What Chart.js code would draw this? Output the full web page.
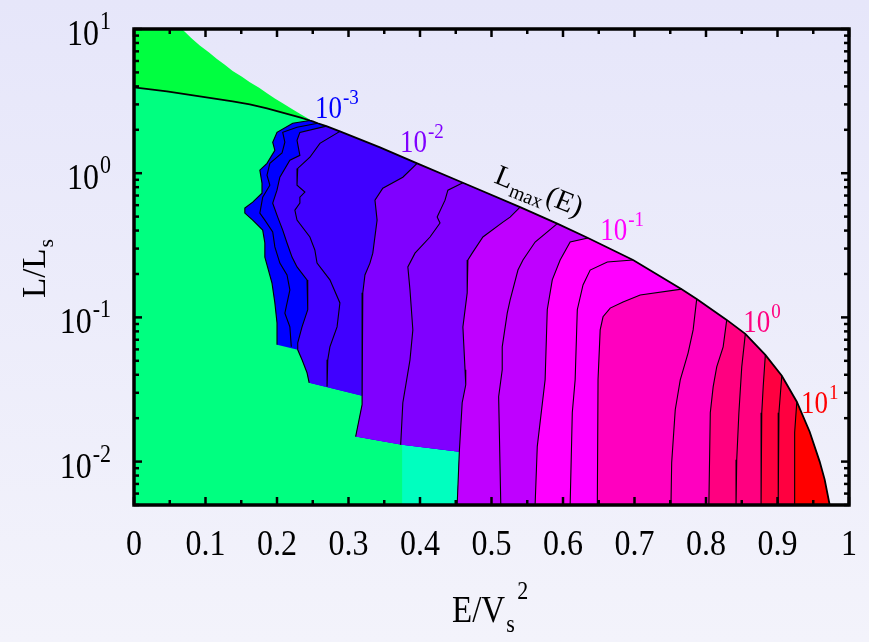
<!DOCTYPE html>
<html>
<head>
<meta charset="utf-8">
<title>L/Ls vs E/Vs^2 contours</title>
<script src="https://cdn.jsdelivr.net/npm/chart.js@4/dist/chart.umd.min.js"></script>
<style>
  html, body { margin: 0; padding: 0; }
  body { width: 869px; height: 642px; overflow: hidden;
         background: linear-gradient(180deg, #e6e6fa 0%, #f3f3fb 100%); }
  canvas { display: block; }
</style>
</head>
<body>
<canvas id="chart" width="869" height="642"></canvas>
<script>
// ---------------- data (E/Vs^2 , L/Ls) ----------------
const xTicks = [0, 0.1, 0.2, 0.3, 0.4, 0.5, 0.6, 0.7, 0.8, 0.9, 1];
const xTickLabels = ['0', '0.1', '0.2', '0.3', '0.4', '0.5', '0.6', '0.7', '0.8', '0.9', '1'];
const yTicks = [0.01, 0.1, 1, 10];
const yTickExponents = ['-2', '-1', '0', '1'];
const xRange = [0, 1];
const yRange = [0.005, 10];

// Lmax(E) boundary curve
const lMax = [[0,3.94],[0.046,3.69],[0.092,3.41],[0.138,3.15],[0.162,3.00],[0.186,2.82],[0.232,2.44],
  [0.246,2.32],[0.250,2.29],[0.257,2.22],[0.269,2.12],[0.288,1.95],[0.344,1.51],[0.396,1.17],[0.460,0.859],
  [0.540,0.582],[0.592,0.447],[0.635,0.355],[0.698,0.250],[0.766,0.157],[0.787,0.134],[0.829,0.0961],
  [0.855,0.0769],[0.883,0.0550],[0.906,0.0394],[0.927,0.0260],[0.945,0.0161],[0.959,0.0100],
  [0.966,0.0075],[0.973,0.005]];

// upper edge of the bright green region above Lmax
const upperEdge = [[0,10],[0.067,10],[0.080,8.67],[0.092,7.69],[0.105,6.87],[0.116,6.19],[0.127,5.64],
  [0.138,5.12],[0.151,4.66],[0.162,4.27],[0.175,3.91],[0.186,3.58],[0.197,3.30],[0.208,3.05],
  [0.221,2.79],[0.232,2.58],[0.250,2.29]];

// lower edge of the coloured (contoured) region
const lowerEdge = [[0.200,0.0645],[0.229,0.0596],[0.235,0.0508],[0.242,0.0413],[0.245,0.0352],
  [0.319,0.0286],[0.319,0.0248],[0.310,0.0149],[0.375,0.0131],[0.455,0.0117],[0.452,0.005],[0.973,0.005]];

const cyanPatch = [[0.375,0.0131],[0.455,0.0117],[0.452,0.005],[0.375,0.005]];

// contour lines, from Lmax (top) downwards
const line1 = [[0.246,2.32],[0.222,2.22],[0.200,1.92],[0.194,1.64],[0.197,1.44],[0.186,1.17],[0.176,1.05],
  [0.179,0.853],[0.179,0.727],[0.166,0.630],[0.155,0.573],[0.155,0.529],[0.166,0.473],[0.180,0.403],
  [0.183,0.328],[0.183,0.262],[0.193,0.173],[0.197,0.126],[0.200,0.0916],[0.200,0.0645]];
const line2 = [[0.257,2.22],[0.228,2.08],[0.208,1.92],[0.211,1.64],[0.207,1.38],[0.190,1.17],[0.186,0.968],
  [0.190,0.826],[0.180,0.682],[0.176,0.529],[0.183,0.473],[0.194,0.391],[0.197,0.308],[0.204,0.238],
  [0.214,0.197],[0.218,0.155],[0.211,0.107],[0.218,0.0859],[0.220,0.0625]];
const line3 = [[0.269,2.12],[0.232,1.92],[0.228,1.69],[0.232,1.33],[0.218,1.23],[0.204,0.938],[0.200,0.763],
  [0.194,0.620],[0.201,0.496],[0.208,0.403],[0.214,0.328],[0.221,0.262],[0.228,0.224],[0.242,0.182],
  [0.243,0.139],[0.243,0.113],[0.235,0.0859],[0.229,0.0666],[0.229,0.0596],[0.235,0.0508],[0.242,0.0413],
  [0.245,0.0352]];
const line4 = [[0.288,1.95],[0.260,1.61],[0.246,1.29],[0.229,1.08],[0.228,0.826],[0.239,0.739],[0.232,0.682],
  [0.232,0.620],[0.225,0.555],[0.228,0.473],[0.246,0.361],[0.253,0.293],[0.256,0.238],[0.274,0.182],
  [0.288,0.126],[0.284,0.0859],[0.274,0.0625],[0.271,0.0508],[0.270,0.0330]];
const line5 = [[0.396,1.17],[0.376,0.938],[0.348,0.787],[0.337,0.650],[0.340,0.473],[0.334,0.279],
  [0.330,0.238],[0.323,0.197],[0.320,0.148],[0.319,0.0781],[0.319,0.0286],[0.319,0.0248],[0.310,0.0149]];
const line6 = [[0.460,0.859],[0.439,0.763],[0.435,0.650],[0.424,0.496],[0.428,0.451],[0.414,0.361],
  [0.393,0.279],[0.383,0.224],[0.386,0.155],[0.390,0.0819],[0.386,0.0508],[0.376,0.0256],[0.373,0.0131]];
const line7 = [[0.540,0.582],[0.526,0.496],[0.516,0.458],[0.488,0.361],[0.473,0.279],[0.467,0.250],
  [0.466,0.148],[0.460,0.0859],[0.463,0.0433],[0.464,0.0341],[0.459,0.0256],[0.455,0.0117],[0.452,0.005]];
const line8 = [[0.592,0.447],[0.561,0.333],[0.544,0.250],[0.537,0.213],[0.526,0.132],[0.522,0.107],
  [0.515,0.0625],[0.515,0.0433],[0.510,0.0282],[0.513,0.005]];
const line9 = [[0.635,0.355],[0.610,0.333],[0.596,0.250],[0.585,0.182],[0.578,0.113],[0.575,0.0369],
  [0.564,0.0127],[0.561,0.005]];
const line10 = [[0.698,0.250],[0.662,0.242],[0.638,0.213],[0.628,0.168],[0.620,0.113],[0.617,0.0369],
  [0.613,0.0218],[0.610,0.005]];
const line11 = [[0.766,0.157],[0.708,0.143],[0.684,0.128],[0.666,0.116],[0.656,0.101],[0.652,0.0819],
  [0.649,0.0369],[0.648,0.005]];
const line12 = [[0.787,0.134],[0.782,0.0819],[0.775,0.0568],[0.764,0.0369],[0.757,0.0229],[0.752,0.00984],
  [0.751,0.005]];
const line13 = [[0.829,0.0961],[0.824,0.0625],[0.815,0.0454],[0.810,0.0330],[0.806,0.0218],[0.804,0.005]];
const line14 = [[0.855,0.0769],[0.850,0.0454],[0.846,0.0218],[0.843,0.0103],[0.842,0.005]];
const line15 = [[0.883,0.0550],[0.880,0.0330],[0.878,0.0218],[0.877,0.005]];
const line16 = [[0.906,0.0394],[0.902,0.0218],[0.901,0.0142],[0.901,0.005]];
const line17 = [[0.927,0.0260],[0.924,0.0159],[0.924,0.005]];

const contourLines = [line1, line2, line3, line4, line5, line6, line7, line8, line9,
  line10, line11, line12, line13, line14, line15, line16, line17];
// each coloured band lies to the right of one of these lines
const bandLines = [line1, line3, line5, line7, line9, line11, line13, line15, line17];

// level labels (10^exp) and Lmax label anchors
const levelExponents = ['-3', '-2', '-1', '0', '1'];
const levelLabelE = [0.253, 0.372, 0.652, 0.852, 0.933];
const levelLabelL = [2.40, 1.40, 0.344, 0.0794, 0.0218];
const lmaxLabelAnchor = [0.502, 0.867];

// ---------------- styles ----------------
const bandColors = ['#0000ff', '#4000ff', '#8000ff', '#bf00ff', '#ff00ff', '#ff00bf', '#ff0080', '#ff0040', '#ff0000'];
const levelColors = ['#0000ff', '#8000ff', '#ff00ff', '#ff0080', '#ff0000'];
const baseGreen = '#00ff80', brightGreen = '#00ff40', cyanGreen = '#00ffbf';
const FONT = '"Liberation Serif", "Times New Roman", serif';
const SY = 1.15;

// ---------------- build polygons from the arrays ----------------
const toXY = a => a.map(p => ({x: p[0], y: p[1]}));
function nearestIndex(arr, p) {
  let best = 0, bd = Infinity;
  arr.forEach((q, i) => {
    const dx = (q[0] - p[0]) * 715, dy = (Math.log10(q[1]) - Math.log10(p[1])) * 144;
    const d = dx * dx + dy * dy;
    if (d < bd) { bd = d; best = i; }
  });
  return best;
}
function bandPolygon(line) {
  const top = line[0], last = line[line.length - 1];
  let pts = line.slice();
  if (last[1] > yRange[0] * 1.001) {
    const k = nearestIndex(lowerEdge, last);
    pts = pts.concat(lowerEdge.slice(k + 1));
  }
  return pts.concat(lMax.filter(p => p[0] > top[0] + 1e-9).reverse());
}

const datasets = [];
let ord = 1000;
function addPoly(points, color) {
  datasets.push({data: toXY(points), fill: 'shape', backgroundColor: color,
    borderColor: 'rgba(0,0,0,0)', borderWidth: 0, pointRadius: 0, order: ord--});
}
addPoly(lMax.concat([[0, yRange[0]]]), baseGreen);
const ueEnd = upperEdge[upperEdge.length - 1][0];
addPoly(upperEdge.concat(lMax.filter(p => p[0] < ueEnd - 1e-9).reverse()), brightGreen);
addPoly(cyanPatch, cyanGreen);
bandLines.forEach((l, i) => addPoly(bandPolygon(l), bandColors[i]));
contourLines.forEach(l => datasets.push({data: toXY(l), fill: false, borderColor: '#000',
  borderWidth: 1.1, pointRadius: 0, order: 10}));
datasets.push({data: toXY(lMax), fill: false, borderColor: '#000', borderWidth: 1.8, pointRadius: 0, order: 5});

// ---------------- frame, ticks and text ----------------
function drawText(ctx, s, x, y, size, color) {
  ctx.save(); ctx.translate(x, y); ctx.scale(1, SY);
  ctx.font = size + 'px ' + FONT; ctx.fillStyle = color;
  ctx.textAlign = 'left'; ctx.textBaseline = 'alphabetic';
  ctx.fillText(s, 0, 0); ctx.restore();
}
function textW(ctx, s, size) {
  ctx.save(); ctx.font = size + 'px ' + FONT; const w = ctx.measureText(s).width; ctx.restore(); return w;
}
const framePlugin = {
  id: 'frameAndText',
  afterDraw(chart) {
    const {ctx, chartArea: a} = chart;
    const xs = chart.scales.x, ys = chart.scales.y;
    ctx.save();
    ctx.strokeStyle = '#000'; ctx.lineCap = 'butt';
    const seg = (x1, y1, x2, y2) => { ctx.beginPath(); ctx.moveTo(x1, y1); ctx.lineTo(x2, y2); ctx.stroke(); };
    ctx.lineWidth = 2.5;
    xTicks.forEach((v, i) => {
      const p = xs.getPixelForValue(v);
      seg(p, a.bottom, p, a.bottom - 8); seg(p, a.top, p, a.top + 8);
      if (i < xTicks.length - 1) {
        const m = xs.getPixelForValue((v + xTicks[i + 1]) / 2);
        seg(m, a.bottom, m, a.bottom - 5); seg(m, a.top, m, a.top + 5);
      }
    });
    yTicks.forEach(v => {
      const p = ys.getPixelForValue(v);
      seg(a.left, p, a.left + 8, p); seg(a.right, p, a.right - 8, p);
    });
    for (let e = -3; e <= 1; e++) {
      for (let k = 2; k <= 9; k++) {
        const v = k * Math.pow(10, e);
        if (v < yRange[0] - 1e-12 || v > yRange[1]) continue;
        const p = ys.getPixelForValue(v);
        seg(a.left, p, a.left + 5, p); seg(a.right, p, a.right - 5, p);
      }
    }
    ctx.lineWidth = 3.5;
    ctx.strokeRect(a.left, a.top, a.right - a.left, a.bottom - a.top);

    // x tick labels
    xTicks.forEach((v, i) => {
      const p = xs.getPixelForValue(v);
      const w = textW(ctx, xTickLabels[i], 32);
      drawText(ctx, xTickLabels[i], p - w / 2, 555, 32, '#000');
    });
    // y tick labels 10^n
    yTicks.forEach((v, i) => {
      const p = ys.getPixelForValue(v);
      const ws = textW(ctx, yTickExponents[i], 22), wb = textW(ctx, '10', 32);
      const right = 111;
      drawText(ctx, '10', right - ws - 1 - wb, p + 16, 32, '#000');
      drawText(ctx, yTickExponents[i], right - ws, p, 22, '#000');
    });
    // y axis title L/L_s
    ctx.save();
    ctx.translate(45, 298); ctx.rotate(-Math.PI / 2);
    ctx.fillStyle = '#000'; ctx.font = '33px ' + FONT; ctx.textBaseline = 'alphabetic';
    ctx.fillText('L/L', 0, 0);
    const wl = ctx.measureText('L/L').width;
    ctx.font = '22px ' + FONT; ctx.fillText('s', wl + 1, 8);
    ctx.restore();
    // x axis title E/V_s^2
    const wE = textW(ctx, 'E/V', 33);
    drawText(ctx, 'E/V', 452, 622, 33, '#000');
    drawText(ctx, 's', 452 + wE + 1, 632, 22, '#000');
    drawText(ctx, '2', 452 + wE + 12, 599, 22, '#000');

    // contour level labels
    levelExponents.forEach((ex, i) => {
      const px = xs.getPixelForValue(levelLabelE[i]);
      const py = ys.getPixelForValue(levelLabelL[i]);
      const wb = textW(ctx, '10', 27);
      drawText(ctx, '10', px, py, 27, levelColors[i]);
      drawText(ctx, ex, px + wb + 1, py - 14, 19, levelColors[i]);
    });
    // Lmax(E) label along the curve
    ctx.save();
    ctx.translate(xs.getPixelForValue(lmaxLabelAnchor[0]), ys.getPixelForValue(lmaxLabelAnchor[1]));
    ctx.rotate(22 * Math.PI / 180);
    ctx.fillStyle = '#000'; ctx.textBaseline = 'alphabetic';
    ctx.font = '29px ' + FONT; ctx.fillText('L', 0, 0);
    const w1 = ctx.measureText('L').width;
    ctx.font = '20px ' + FONT; ctx.fillText('max', w1 + 1, 7);
    const w2 = ctx.measureText('max').width;
    ctx.font = '29px ' + FONT; ctx.fillText('(E)', w1 + w2 + 3, 0);
    ctx.restore();
    ctx.restore();
  }
};

new Chart(document.getElementById('chart').getContext('2d'), {
  type: 'line',
  data: {datasets},
  options: {
    responsive: false,
    animation: false,
    devicePixelRatio: 1,
    layout: {padding: {left: 134, right: 20, top: 29, bottom: 137}},
    elements: {line: {tension: 0}, point: {radius: 0}},
    scales: {
      x: {type: 'linear', min: xRange[0], max: xRange[1], display: false},
      y: {type: 'logarithmic', min: yRange[0], max: yRange[1], display: false}
    },
    plugins: {legend: {display: false}, tooltip: {enabled: false}}
  },
  plugins: [framePlugin]
});
</script>
</body>
</html>
